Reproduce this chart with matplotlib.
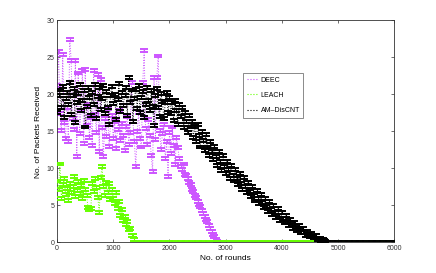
import numpy as np
import matplotlib.pyplot as plt
from matplotlib.lines import Line2D

plt.rcParams['font.family'] = ['Liberation Sans', 'DejaVu Sans']

# AM-DisCNT, rounds 0..4800 step 25
amd_rounds = np.arange(0, 4801, 25)
amd_packets = [
    17.5, 19.8, 20.6, 18.2, 21.1, 16.9, 19.4, 20.3,
    18.7, 21.6, 17.3, 19.9, 20.8, 16.2, 18.9, 20.1,
    21.3, 17.8, 19.2, 20.5, 15.6, 18.4, 21.0, 19.6,
    17.1, 20.2, 18.6, 21.4, 16.8, 19.7, 20.9, 18.0,
    19.5, 21.2, 17.4, 20.4, 18.3, 15.9, 19.9, 21.1,
    18.8, 20.0, 16.6, 19.3, 21.5, 17.7, 20.3, 18.5,
    19.8, 21.0, 17.2, 22.3, 18.9, 20.6, 16.4, 19.5,
    20.7, 18.1, 21.2, 17.5, 19.6, 20.4, 16.9, 18.7,
    21.0, 19.2, 17.8, 20.5, 18.4, 15.8, 19.9, 20.8,
    18.2, 17.0, 20.1, 19.0, 16.7, 18.9, 20.3, 17.6,
    19.6, 17.4, 18.9, 16.5, 19.2, 17.8, 15.9, 18.6,
    17.0, 18.3, 15.5, 17.6, 16.3, 14.8, 17.1, 15.6,
    16.4, 14.2, 15.7, 13.6, 15.9, 14.5, 12.9, 15.0,
    13.8, 12.4, 14.6, 12.9, 11.8, 13.7, 12.3, 11.2,
    13.0, 11.6, 10.4, 12.3, 10.9, 9.7, 11.8, 10.2,
    9.3, 11.0, 9.8, 8.7, 10.4, 9.1, 8.3, 9.9,
    8.6, 7.8, 9.3, 8.0, 7.1, 8.8, 7.5, 6.8,
    8.1, 6.9, 6.2, 7.6, 6.4, 5.6, 7.0, 5.9,
    5.2, 6.5, 5.4, 4.7, 6.0, 4.9, 4.2, 5.5,
    4.5, 3.8, 5.0, 4.0, 3.4, 4.6, 3.6, 3.0,
    4.1, 3.2, 2.7, 3.6, 2.8, 2.3, 3.1, 2.4,
    1.9, 2.7, 2.0, 1.6, 2.3, 1.7, 1.3, 1.9,
    1.4, 1.0, 1.5, 1.1, 0.8, 1.2, 0.8, 0.6,
    0.9, 0.6, 0.4, 0.6, 0.3, 0.4, 0.2, 0.1,
    0.0,
]
amd_tail_rounds = np.arange(4900, 6001, 100)
amd_tail = [0, 0, 0, 0, 0, 0, 0, 0, 0, 0, 0, 0]

# DEEC, rounds 0..2850 step 25
deec_rounds = np.arange(0, 2851, 25)
deec_packets = [
    21.2, 25.8, 17.4, 15.1, 25.4, 16.2, 14.0, 18.3,
    13.6, 27.4, 24.6, 16.8, 15.3, 24.6, 11.6, 22.9,
    14.7, 17.9, 23.3, 13.4, 23.4, 15.8, 18.6, 14.2,
    16.9, 13.1, 23.2, 17.3, 14.8, 22.7, 12.3, 22.0,
    15.5, 11.6, 16.7, 14.3, 18.1, 13.0, 15.9, 17.2,
    14.0, 16.4, 12.7, 15.2, 17.8, 13.8, 16.1, 14.5,
    12.4, 15.7, 17.0, 13.3, 14.9, 21.6, 16.3, 13.7,
    10.2, 15.0, 17.5, 14.1, 12.9, 21.6, 26.0, 15.4,
    13.2, 16.6, 14.4, 11.8, 9.6, 22.3, 13.9, 22.3,
    25.2, 15.1, 12.5, 14.7, 16.0, 11.4, 13.6, 8.9,
    14.8, 12.0, 15.6, 13.1, 10.5, 14.2, 12.8, 11.3,
    10.3, 9.9, 10.6, 9.2, 9.0, 8.6, 8.1, 7.8,
    7.2, 6.9, 6.4, 6.1, 5.5, 5.1, 4.8, 4.3,
    3.9, 3.5, 3.1, 2.8, 2.3, 1.9, 1.5, 1.1,
    0.8, 0.4, 0.1,
]
deec_tail_rounds = np.arange(2900, 6001, 100)
deec_tail = [0, 0, 0, 0, 0, 0, 0, 0, 0, 0, 0, 0, 0, 0, 0, 0,
             0, 0, 0, 0, 0, 0, 0, 0, 0, 0, 0, 0, 0, 0, 0, 0]

# LEACH, rounds 0..1400 step 25
leach_rounds = np.arange(0, 1401, 25)
leach_packets = [
    8.3, 7.1, 10.6, 6.0, 7.8, 8.6, 6.5, 7.3,
    5.7, 8.0, 6.8, 7.5, 8.9, 6.2, 7.0, 8.2,
    6.6, 7.7, 5.9, 8.4, 7.2, 6.4, 4.7, 4.4,
    4.6, 7.9, 6.9, 8.7, 7.4, 6.1, 4.0, 8.8,
    10.2, 7.6, 6.3, 8.1, 6.7, 7.9, 5.8, 7.1,
    6.0, 5.2, 6.8, 4.6, 5.5, 3.6, 4.4, 3.0,
    3.5, 2.4, 2.8, 1.7, 1.9, 1.0, 0.9, 0.4,
    0.0,
]
leach_tail_rounds = np.arange(1500, 6001, 100)
leach_tail = [0, 0, 0, 0, 0, 0, 0, 0, 0, 0, 0, 0, 0, 0, 0, 0,
              0, 0, 0, 0, 0, 0, 0, 0, 0, 0, 0, 0, 0, 0, 0, 0,
              0, 0, 0, 0, 0, 0, 0, 0, 0, 0, 0, 0, 0, 0]

purple = '#cc55ff'
green = '#66ff00'
black = '#000000'

fig = plt.figure(figsize=(4.36, 2.73), dpi=100)
ax = fig.add_axes([0.131, 0.112, 0.773, 0.813])

def draw(x, y, color, z):
    ax.errorbar(x, y, yerr=0.2, fmt=':', color=color, lw=0.7,
                elinewidth=0.8, capsize=2.9, capthick=1.4, zorder=z)

draw(np.concatenate([deec_rounds, deec_tail_rounds]), deec_packets + deec_tail, purple, 2)
draw(np.concatenate([leach_rounds, leach_tail_rounds]), leach_packets + leach_tail, green, 3)
draw(np.concatenate([amd_rounds, amd_tail_rounds]), amd_packets + amd_tail, black, 4)

ax.set_xlim(0, 6000)
ax.set_ylim(0, 30)
ax.set_xticks(np.arange(0, 6001, 1000))
ax.set_yticks(np.arange(0, 31, 5))
ax.tick_params(direction='in', length=2.5, width=0.5, labelsize=5,
               top=True, right=True, colors='#333333', pad=2)
for s in ax.spines.values():
    s.set_linewidth(0.6)
    s.set_color('#333333')

ax.set_xlabel('No. of rounds', fontsize=6, labelpad=2)
ax.set_ylabel('No. of Packets Received', fontsize=6, labelpad=3)

handles = [Line2D([], [], ls=':', color=purple, lw=0.8),
           Line2D([], [], ls=':', color=green, lw=0.8),
           Line2D([], [], ls=':', color=black, lw=0.8)]
leg = ax.legend(handles, ['DEEC', 'LEACH', 'AM\u2013DisCNT'], loc='upper left',
                bbox_to_anchor=(0.552, 0.763), fontsize=5, frameon=True,
                fancybox=False, handlelength=1.6, borderpad=0.5,
                labelspacing=1.2, handletextpad=0.4, borderaxespad=0)
leg.get_frame().set_edgecolor('#555555')
leg.get_frame().set_linewidth(0.6)

fig.savefig('out.png', dpi=100)
